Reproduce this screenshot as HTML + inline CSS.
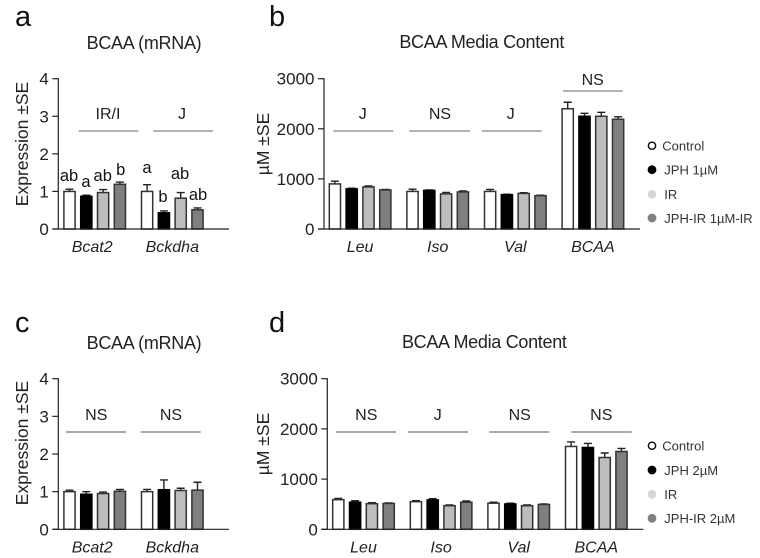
<!DOCTYPE html>
<html>
<head>
<meta charset="utf-8">
<title>BCAA charts</title>
<style>
html,body{margin:0;padding:0;background:#fff;}
svg{display:block;filter:blur(0.3px);font-family:"Liberation Sans",sans-serif;}
.letter{font-size:29px;fill:#111;}
.title{font-size:18px;fill:#222;text-anchor:middle;letter-spacing:-0.3px;}
.anno{font-size:16px;fill:#222;text-anchor:middle;}
.sig{font-size:16.5px;fill:#111;text-anchor:middle;}
.ylabel{font-size:17.5px;fill:#222;text-anchor:middle;}
.tick{font-size:17px;fill:#222;text-anchor:end;}
.cat{font-size:16px;font-style:italic;fill:#222;text-anchor:middle;}
.leg{font-size:13px;fill:#333;}
</style>
</head>
<body>
<svg id="root" width="760" height="558" viewBox="0 0 760 558" xmlns="http://www.w3.org/2000/svg">
  <g>
    <text class="letter" x="15" y="26">a</text>
    <text class="title" x="144" y="49">BCAA (mRNA)</text>
    <text class="ylabel" transform="translate(28,144) rotate(-90)">Expression ±SE</text>
    <text class="anno" x="108" y="119">IR/I</text>
    <text class="anno" x="182" y="119">J</text>
    <line x1="78.7" x2="138.3" y1="131" y2="131" stroke="#666"/>
    <line x1="153.3" x2="212.7" y1="131" y2="131" stroke="#666"/>
    <text class="sig" x="69" y="181">ab</text>
    <text class="sig" x="86" y="187">a</text>
    <text class="sig" x="102.7" y="181">ab</text>
    <text class="sig" x="120.7" y="175">b</text>
    <text class="sig" x="147" y="173">a</text>
    <text class="sig" x="163" y="202">b</text>
    <text class="sig" x="180" y="179">ab</text>
    <text class="sig" x="198" y="200">ab</text>
  </g>
  <g>
    <text class="letter" x="269" y="26">b</text>
    <text class="title" x="481.7" y="48">BCAA Media Content</text>
    <text class="ylabel" transform="translate(269,144) rotate(-90)">µM ±SE</text>
    <text class="anno" x="362.7" y="119">J</text>
    <text class="anno" x="440" y="119">NS</text>
    <text class="anno" x="510.7" y="119">J</text>
    <text class="anno" x="592.7" y="85">NS</text>
    <line x1="333.3" x2="393.3" y1="131" y2="131" stroke="#666"/>
    <line x1="409.3" x2="470" y1="131" y2="131" stroke="#666"/>
    <line x1="481.7" x2="541.7" y1="131" y2="131" stroke="#666"/>
    <line x1="563.3" x2="622.7" y1="91" y2="91" stroke="#666"/>
  </g>
  <g>
    <circle cx="652" cy="145.7" r="3.6" fill="#fff" stroke="#111" stroke-width="1.5"/>
    <text class="leg" x="662.3" y="150.5">Control</text>
    <circle cx="652" cy="169.7" r="4.4" fill="#000"/>
    <text class="leg" x="664.3" y="174.5">JPH 1µM</text>
    <circle cx="652" cy="194.3" r="4.4" fill="#d6d6d6"/>
    <text class="leg" x="664.3" y="199">IR</text>
    <circle cx="652" cy="218" r="4.4" fill="#808080"/>
    <text class="leg" x="664.3" y="223">JPH-IR 1µM-IR</text>
  </g>
  <g>
    <text class="letter" x="15" y="332">c</text>
    <text class="title" x="144" y="349">BCAA (mRNA)</text>
    <text class="ylabel" transform="translate(28,443) rotate(-90)">Expression ±SE</text>
    <text class="anno" x="96.3" y="420">NS</text>
    <text class="anno" x="171" y="420">NS</text>
    <line x1="66" x2="126" y1="432" y2="432" stroke="#555"/>
    <line x1="140.7" x2="200.7" y1="432" y2="432" stroke="#555"/>
  </g>
  <g>
    <text class="letter" x="269" y="332">d</text>
    <text class="title" x="484.3" y="348">BCAA Media Content</text>
    <text class="ylabel" transform="translate(269,444) rotate(-90)">µM ±SE</text>
    <text class="anno" x="366.3" y="420">NS</text>
    <text class="anno" x="437.7" y="420">J</text>
    <text class="anno" x="519.7" y="420">NS</text>
    <text class="anno" x="601.3" y="420">NS</text>
    <line x1="336" x2="396" y1="432" y2="432" stroke="#555"/>
    <line x1="408" x2="468" y1="432" y2="432" stroke="#555"/>
    <line x1="489.3" x2="549.3" y1="432" y2="432" stroke="#555"/>
    <line x1="571.3" x2="631.7" y1="432" y2="432" stroke="#555"/>
  </g>
  <g>
    <circle cx="652" cy="445.7" r="3.6" fill="#fff" stroke="#111" stroke-width="1.5"/>
    <text class="leg" x="662.3" y="450.5">Control</text>
    <circle cx="652" cy="470" r="4.4" fill="#000"/>
    <text class="leg" x="664.3" y="475">JPH 2µM</text>
    <circle cx="652" cy="494.3" r="4.4" fill="#d6d6d6"/>
    <text class="leg" x="664.3" y="499">IR</text>
    <circle cx="652" cy="518.3" r="4.4" fill="#808080"/>
    <text class="leg" x="664.3" y="523">JPH-IR 2µM</text>
  </g>
</svg>
<script>
const geneCategories = ["Bcat2", "Bckdha"];
const aminoCategories = ["Leu", "Iso", "Val", "BCAA"];
const seriesNames = ["control", "jph", "ir", "jph-ir"];
const expressionTicks = [0, 1, 2, 3, 4];
const mediaTicks = [0, 1000, 2000, 3000];

const panelAValues = [[1.0, 0.87, 0.97, 1.19], [1.0, 0.43, 0.82, 0.51]];
const panelAErrors = [[0.06, 0.03, 0.08, 0.06], [0.18, 0.05, 0.15, 0.05]];
const panelBValues = [[900, 800, 840, 780], [750, 770, 700, 740], [750, 685, 710, 665], [2400, 2250, 2250, 2190]];
const panelBErrors = [[55, 15, 20, 10], [45, 10, 30, 20], [40, 10, 15, 10], [130, 60, 80, 50]];
const panelCValues = [[1.0, 0.93, 0.95, 1.01], [1.0, 1.05, 1.03, 1.04]];
const panelCErrors = [[0.04, 0.07, 0.04, 0.05], [0.06, 0.26, 0.06, 0.21]];
const panelDValues = [[590, 540, 510, 515], [550, 585, 470, 540], [520, 505, 470, 495], [1650, 1630, 1430, 1550]];
const panelDErrors = [[25, 30, 20, 10], [20, 25, 15, 25], [20, 15, 15, 10], [90, 80, 90, 60]];

const seriesFills = ["#ffffff", "#000000", "#bdbdbd", "#7f7f7f"];
const NS = "http://www.w3.org/2000/svg";
const root = document.getElementById("root");

function make(tag, attrs, parent) {
  const el = document.createElementNS(NS, tag);
  for (const k in attrs) el.setAttribute(k, attrs[k]);
  parent.appendChild(el);
  return el;
}

function drawPanel(id, cfg, categories, ticks, values, errors) {
  const g = make("g", {}, root);
  
  
  const maxTick = ticks[ticks.length - 1];
  const yScale = v => cfg.y0 - (v / maxTick) * (cfg.y0 - cfg.yTop);
  const xScale = (gi, si) => cfg.x0 + gi * 77.6 + si * 16.8;
  const barW = 11.2;

  values.forEach((groupVals, gi) => {
    groupVals.forEach((v, si) => {
      const cx = xScale(gi, si);
      const top = yScale(v);
      const errTop = yScale(v + errors[gi][si]);
      const err = make("path", {
        d: "M" + cx + " " + top + "V" + errTop + "M" + (cx - 4) + " " + errTop + "H" + (cx + 4),
        stroke: "#222", "stroke-width": 1.4, fill: "none"
      }, g);
      
      
      const bar = make("rect", {
        x: cx - barW / 2, y: top, width: barW, height: cfg.y0 - top,
        fill: seriesFills[si], stroke: si === 1 ? "#000" : "#333", "stroke-width": 1.5
      }, g);
      
      
    });
  });

  const yAxis = make("line", { x1: cfg.axisX, x2: cfg.axisX, y1: cfg.yTop - 0.6, y2: cfg.y0 + 0.6, stroke: "#222", "stroke-width": 1.2 }, g);
  
  
  const xAxis = make("line", { x1: cfg.axisX - 6, x2: cfg.axisEnd, y1: cfg.y0, y2: cfg.y0, stroke: "#222", "stroke-width": 1.2 }, g);
  
  

  ticks.forEach(t => {
    const y = yScale(t);
    const mark = make("line", { x1: cfg.axisX - 6, x2: cfg.axisX, y1: y, y2: y, stroke: "#222", "stroke-width": 1.2 }, g);
    
    
    const label = make("text", { class: "tick", x: cfg.axisX - 9.5, y: y + 6 }, g);
    label.textContent = t;
    
    
  });

  categories.forEach((c, gi) => {
    const shift = c === "Bcat2" ? -2.5 : 0;
    const label = make("text", { class: "cat", x: (xScale(gi, 0) + xScale(gi, 3)) / 2 + shift, y: cfg.y0 + 23 }, g);
    label.textContent = c;
    
    
  });
}

drawPanel("a", { x0: 69.5, y0: 229, yTop: 78.7, axisX: 58.3, axisEnd: 229 }, geneCategories, expressionTicks, panelAValues, panelAErrors);
drawPanel("b", { x0: 334.9, y0: 229, yTop: 78.7, axisX: 324, axisEnd: 640 }, aminoCategories, mediaTicks, panelBValues, panelBErrors);
drawPanel("c", { x0: 69.5, y0: 529.3, yTop: 378.7, axisX: 58.3, axisEnd: 229 }, geneCategories, expressionTicks, panelCValues, panelCErrors);
drawPanel("d", { x0: 338.3, y0: 529.3, yTop: 378.7, axisX: 327.3, axisEnd: 643.3 }, aminoCategories, mediaTicks, panelDValues, panelDErrors);
</script>
</body>
</html>
